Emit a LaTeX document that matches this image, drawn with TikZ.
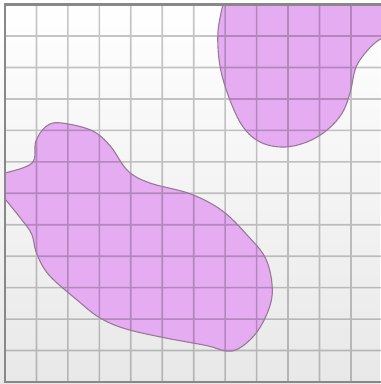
\documentclass[tikz,border=0pt]{standalone}
\definecolor{blobpink}{RGB}{230,172,242}
\definecolor{blobedge}{RGB}{150,122,152}
\definecolor{frameedge}{RGB}{136,136,136}
\begin{document}
\begin{tikzpicture}[
		gridline/.style = {line width = 1.5pt, color = black},
		blobfill/.style = {fill = blobpink},
		blobline/.style = {line width = 1pt, color = blobedge, line join = round},
	]
	% page and background
	\useasboundingbox (-0.159, -0.064) rectangle (11.924, 12.146);
	\shade [top color = white, bottom color = black!9] (-0.159, -0.064) rectangle (11.924, 12.146);

	% lower left blob
	\def\blobone{plot [smooth, tension = 0.6] coordinates {(0, 6.65) (0.86, 6.96) (0.98, 7.65) (1.3, 8.12) (1.75, 8.24) (2.75, 8.0) (3.35, 7.5) (3.9, 6.72) (4.6, 6.33) (5.9, 5.98) (6.9, 5.45) (7.7, 4.67) (8.3, 3.9) (8.5, 2.9) (8.3, 2.1) (7.85, 1.4) (7.2, 0.98) (6.4, 1.16) (5.0, 1.42) (3.8, 1.7) (3.0, 2.05) (2.3, 2.6) (1.4, 3.4) (1.0, 4.1) (0.85, 4.7) (0.5, 5.2) (0, 5.82)} -- cycle}

	% upper right blob
	\def\blobtwo{(6.93, 12) -- plot [smooth, tension = 0.6] coordinates {(6.93, 12) (6.77, 11.1) (6.84, 10.02) (7.15, 8.97) (7.57, 8.11) (8.11, 7.63) (8.84, 7.47) (9.6, 7.63) (10.24, 8.01) (10.72, 8.55) (10.97, 9.19) (11.13, 9.92) (11.35, 10.33) (11.76, 10.78) (12.2, 11.05)} -- (12.4, 12) -- cycle}

	\fill [blobfill] \blobone;
	\fill [blobfill] \blobtwo;

	% grid
	\begin{scope}[transparency group, opacity = 0.22]
		\foreach \x in {1, ..., 11}
			\draw [gridline] (\x, 0) -- (\x, 12);
		\foreach \y in {1, ..., 11}
			\draw [gridline] (0, \y) -- (12.5, \y);
	\end{scope}

	\draw [blobline] \blobone;
	\draw [blobline] \blobtwo;

	% frame
	\draw [line width = 2.4pt, color = frameedge] (12.5, 12) -- (0, 12) -- (0, 0) -- (12.5, 0);
\end{tikzpicture}
\end{document}
